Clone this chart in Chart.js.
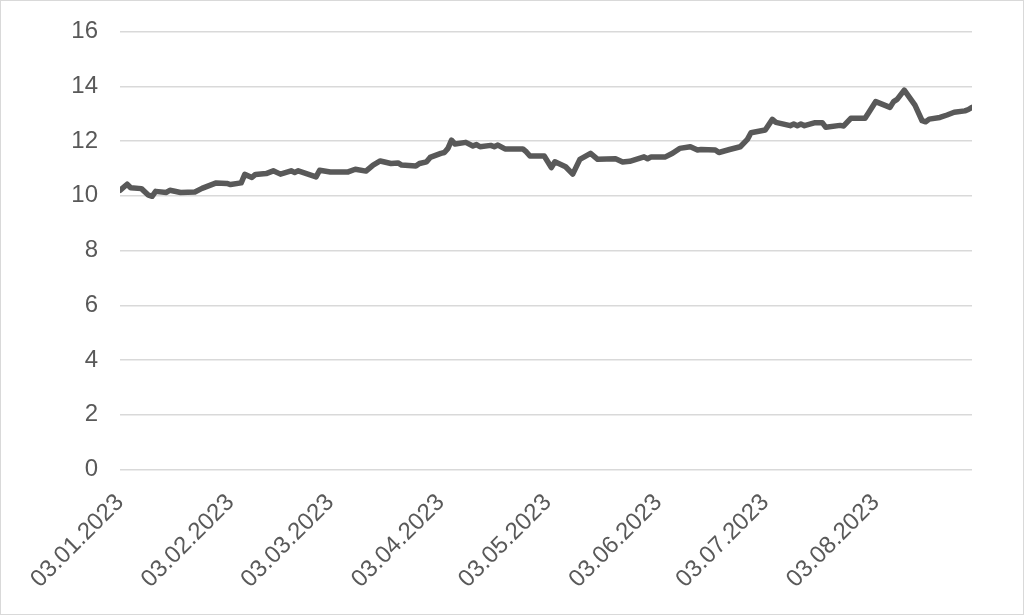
<!DOCTYPE html>
<html>
<head>
<meta charset="utf-8">
<script src="https://cdn.jsdelivr.net/npm/chart.js@4.4.0/dist/chart.umd.min.js"></script>
<style>
html,body{margin:0;padding:0;background:#fff;}
canvas{display:block;}
</style>
</head>
<body>
<canvas id="c" width="1024" height="615"></canvas>
<script>
const dates = [
"03.01.2023","05.01.2023","06.01.2023","09.01.2023","11.01.2023","12.01.2023","13.01.2023","16.01.2023","17.01.2023","20.01.2023",
"24.01.2023","26.01.2023","30.01.2023","02.02.2023","03.02.2023","06.02.2023","07.02.2023","09.02.2023","10.02.2023","13.02.2023",
"15.02.2023","17.02.2023","20.02.2023","21.02.2023","22.02.2023","27.02.2023","28.02.2023","03.03.2023","06.03.2023","08.03.2023",
"10.03.2023","13.03.2023","15.03.2023","17.03.2023","20.03.2023","22.03.2023","23.03.2023","27.03.2023","28.03.2023","30.03.2023",
"31.03.2023","03.04.2023","04.04.2023","05.04.2023","06.04.2023","07.04.2023","10.04.2023","12.04.2023","13.04.2023","14.04.2023",
"17.04.2023","18.04.2023","19.04.2023","21.04.2023","26.04.2023","27.04.2023","28.04.2023","02.05.2023","03.05.2023","04.05.2023",
"05.05.2023","08.05.2023","10.05.2023","12.05.2023","15.05.2023","17.05.2023","22.05.2023","24.05.2023","26.05.2023","30.05.2023",
"31.05.2023","01.06.2023","05.06.2023","07.06.2023","09.06.2023","12.06.2023","14.06.2023","15.06.2023","19.06.2023","20.06.2023",
"23.06.2023","26.06.2023","28.06.2023","29.06.2023","03.07.2023","05.07.2023","06.07.2023","10.07.2023","11.07.2023","12.07.2023",
"13.07.2023","14.07.2023","17.07.2023","19.07.2023","20.07.2023","24.07.2023","25.07.2023","27.07.2023","31.07.2023","01.08.2023",
"03.08.2023","07.08.2023","08.08.2023","09.08.2023","11.08.2023","14.08.2023","16.08.2023","17.08.2023","18.08.2023","21.08.2023",
"23.08.2023","25.08.2023","28.08.2023","29.08.2023","30.08.2023"
];
const values = [
10.20,10.42,10.29,10.26,10.02,9.98,10.16,10.12,10.20,10.12,
10.14,10.27,10.47,10.45,10.41,10.47,10.78,10.67,10.78,10.81,
10.91,10.79,10.91,10.85,10.91,10.69,10.93,10.87,10.87,10.87,
10.97,10.90,11.12,11.27,11.18,11.20,11.12,11.09,11.18,11.24,
11.40,11.55,11.58,11.73,12.03,11.89,11.95,11.82,11.87,11.79,
11.84,11.79,11.85,11.71,11.71,11.60,11.45,11.45,11.24,11.03,
11.24,11.06,10.79,11.33,11.55,11.33,11.35,11.23,11.26,11.42,
11.35,11.42,11.42,11.55,11.73,11.79,11.67,11.69,11.67,11.58,
11.69,11.79,12.06,12.30,12.40,12.79,12.68,12.56,12.62,12.56,
12.62,12.56,12.67,12.67,12.50,12.57,12.55,12.83,12.83,13.03,
13.44,13.23,13.44,13.52,13.86,13.31,12.74,12.70,12.80,12.86,
12.95,13.05,13.10,13.15,13.23
];
const xTickLabels = ["03.01.2023","03.02.2023","03.03.2023","03.04.2023","03.05.2023","03.06.2023","03.07.2023","03.08.2023"];
const yMin = 0, yMax = 16, yStep = 2;

function dayOffset(s){
  const p = s.split('.').map(Number);
  return (Date.UTC(p[2], p[1]-1, p[0]) - Date.UTC(2023,0,3)) / 86400000;
}
const points = dates.map((d,i)=>({x: dayOffset(d), y: values[i]}));
const xTickValues = xTickLabels.map(dayOffset);

const frame = {
  id: 'frame',
  beforeDraw(chart){
    const ctx = chart.ctx;
    ctx.save();
    ctx.fillStyle = '#ffffff';
    ctx.fillRect(0,0,chart.width,chart.height);
    ctx.restore();
  },
  afterDraw(chart){
    const ctx = chart.ctx;
    ctx.save();
    ctx.strokeStyle = '#d9d9d9';
    ctx.lineWidth = 1;
    ctx.strokeRect(0.5,0.5,chart.width-1,chart.height-1);
    ctx.restore();
  }
};

const font = {family: '"Liberation Sans", Arial, sans-serif', size: 24};

new Chart(document.getElementById('c'), {
  type: 'line',
  data: {
    datasets: [{
      data: points,
      borderColor: '#595959',
      borderWidth: 5.5,
      pointRadius: 0,
      tension: 0,
      borderJoinStyle: 'round',
      borderCapStyle: 'round',
      fill: false
    }]
  },
  options: {
    responsive: false,
    animation: false,
    devicePixelRatio: 1,
    layout: {padding: {top: 31.5, right: 52, bottom: 0, left: 0}},
    plugins: {legend: {display: false}, tooltip: {enabled: false}},
    scales: {
      x: {
        type: 'linear',
        min: 0,
        max: dayOffset(dates[dates.length-1]),
        afterBuildTicks(scale){ scale.ticks = xTickValues.map(v=>({value:v})); },
        afterFit(scale){ scale.height = 145.5; },
        grid: {display: false, drawTicks: false},
        border: {display: false},
        ticks: {
          autoSkip: false,
          maxRotation: 45,
          minRotation: 45,
          padding: 19,
          color: '#595959',
          font: font,
          callback: (v, i) => xTickLabels[i]
        }
      },
      y: {
        min: yMin,
        max: yMax,
        afterFit(scale){ scale.width = 120; scale.paddingTop = 0; scale.paddingBottom = 0; },
        grid: {color: '#d9d9d9', lineWidth: 1.5, drawTicks: false},
        border: {display: false},
        ticks: {
          stepSize: yStep,
          padding: 22,
          color: '#595959',
          font: font
        }
      }
    }
  },
  plugins: [frame]
});
</script>
</body>
</html>
